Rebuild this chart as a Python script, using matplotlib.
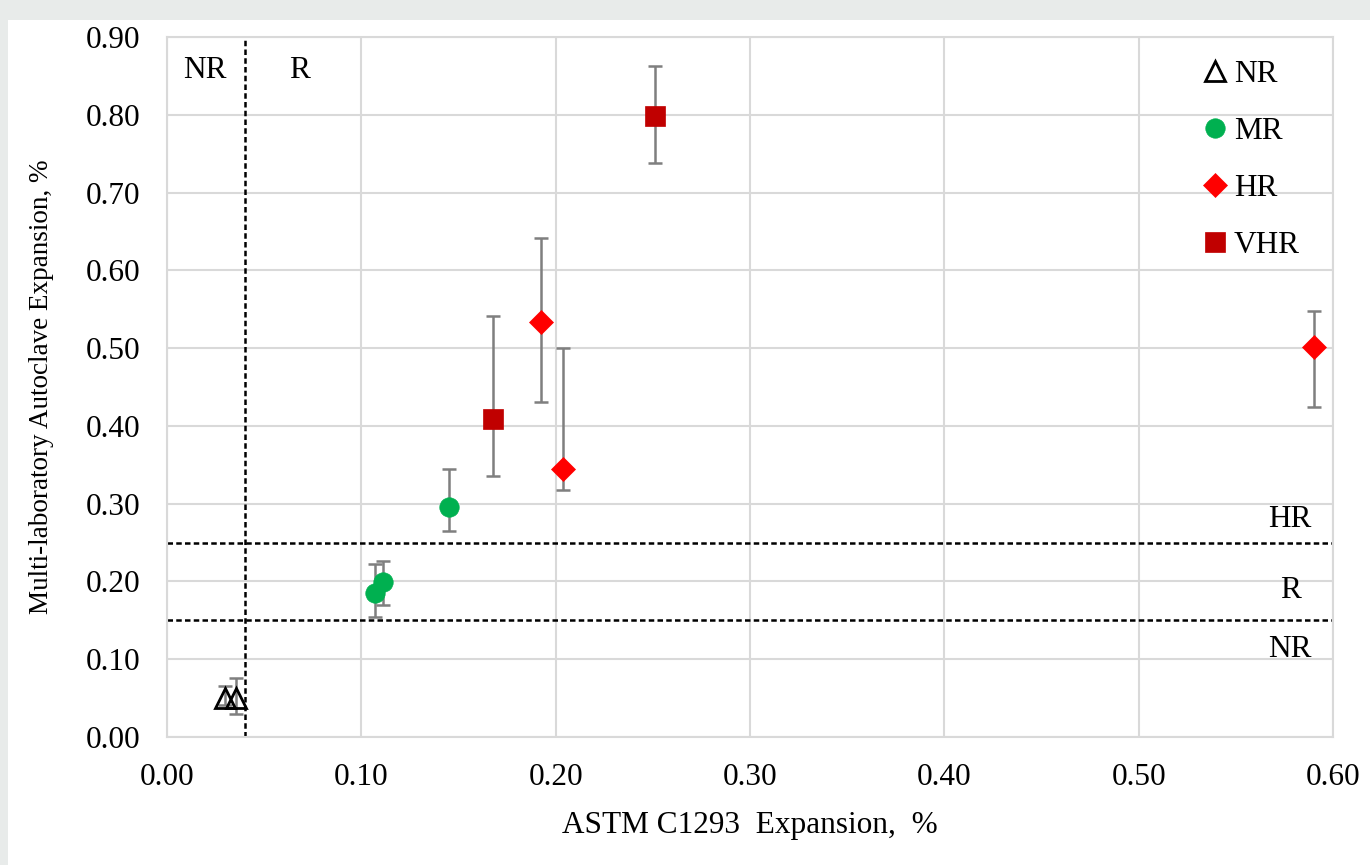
import matplotlib
matplotlib.use("Agg")
import matplotlib.pyplot as plt
import numpy as np
from matplotlib.patches import Rectangle

# values (expansion, %)
nr_x = [0.030, 0.0355]
nr_y = [0.050, 0.050]
nr_lo = [0.041, 0.030]
nr_hi = [0.066, 0.076]

mr_x = [0.107, 0.111, 0.145]
mr_y = [0.185, 0.199, 0.296]
mr_lo = [0.154, 0.170, 0.265]
mr_hi = [0.222, 0.226, 0.345]

hr_x = [0.1925, 0.204, 0.590]
hr_y = [0.534, 0.345, 0.501]
hr_lo = [0.431, 0.318, 0.424]
hr_hi = [0.642, 0.500, 0.548]

vhr_x = [0.168, 0.251]
vhr_y = [0.409, 0.798]
vhr_lo = [0.336, 0.738]
vhr_hi = [0.541, 0.863]

x_ticks = [0.0, 0.1, 0.2, 0.3, 0.4, 0.5, 0.6]
y_ticks = [0.0, 0.1, 0.2, 0.3, 0.4, 0.5, 0.6, 0.7, 0.8, 0.9]
astm_limit = 0.04
ac_limits = [0.15, 0.25]

plt.rcParams['font.family'] = ['Liberation Serif', 'DejaVu Serif']
plt.rcParams['font.size'] = 22.5

fig = plt.figure(figsize=(13.7, 8.65), dpi=100, facecolor='#e8ebea')
fig.patches.append(Rectangle((8 / 1370, 0), 1, (865 - 20) / 865, transform=fig.transFigure,
                             facecolor='white', edgecolor='none', zorder=-10))
ax = fig.add_axes([167 / 1370, 1 - 737 / 865, (1333 - 167) / 1370, 700 / 865])

groups = [
    (nr_x, nr_y, nr_lo, nr_hi, '^', 'none', 'black', 14, 'NR'),
    (mr_x, mr_y, mr_lo, mr_hi, 'o', '#00b050', '#00b050', 14, 'MR'),
    (hr_x, hr_y, hr_lo, hr_hi, 'D', '#ff0000', '#ff0000', 12, 'HR'),
    (vhr_x, vhr_y, vhr_lo, vhr_hi, 's', '#c00000', '#c00000', 14, 'VHR'),
]
handles = []
for x, y, lo, hi, mk, fc, ec, ms, lab in groups:
    y = np.array(y)
    yerr = [y - np.array(lo), np.array(hi) - y]
    ax.errorbar(x, y, yerr=yerr, fmt='none', ecolor='#7f7f7f', elinewidth=1.8,
                capsize=5, capthick=1.8, zorder=3)
    h, = ax.plot(x, y, linestyle='none', marker=mk, markersize=ms, markerfacecolor=fc,
                 markeredgecolor=ec, markeredgewidth=2 if fc == 'none' else 0.5, zorder=4, label=lab)
    handles.append(h)

dash = (0, (2.2, 1.3))
ax.axvline(astm_limit, color='black', linestyle=dash, linewidth=1.8, zorder=2)
for v in ac_limits:
    ax.axhline(v, color='black', linestyle=dash, linewidth=1.8, zorder=2)

ax.text(0.0196, 0.857, 'NR', ha='center', va='center')
ax.text(0.068, 0.857, 'R', ha='center', va='center')
ax.text(0.578, 0.280, 'HR', ha='center', va='center')
ax.text(0.578, 0.188, 'R', ha='center', va='center')
ax.text(0.578, 0.112, 'NR', ha='center', va='center')

ax.set_xlim(0, 0.6)
ax.set_ylim(0, 0.9)
ax.set_xticks(x_ticks)
ax.set_yticks(y_ticks)
ax.set_xticklabels(['%.2f' % t for t in x_ticks])
ax.set_yticklabels(['%.2f' % t for t in y_ticks])
ax.tick_params(length=0, pad=19)
ax.grid(True, color='#d9d9d9', linewidth=1.5, zorder=0)
ax.set_axisbelow(True)
for s in ax.spines.values():
    s.set_color('#d9d9d9')
    s.set_linewidth(1.5)

ax.set_xlabel('ASTM C1293  Expansion,  %')
ax.set_ylabel('Multi-laboratory Autoclave Expansion, %', fontsize=19.5)
ax.xaxis.set_label_coords(0.5, -0.106)
ax.yaxis.set_label_coords(-0.097, 0.5)

ax.legend(handles=handles, loc='upper left', bbox_to_anchor=(0.88, 0.985), frameon=False,
          handlelength=0.6, handletextpad=0.3, labelspacing=0.9, borderaxespad=0)

fig.savefig('out.png', dpi=100, facecolor=fig.get_facecolor())
